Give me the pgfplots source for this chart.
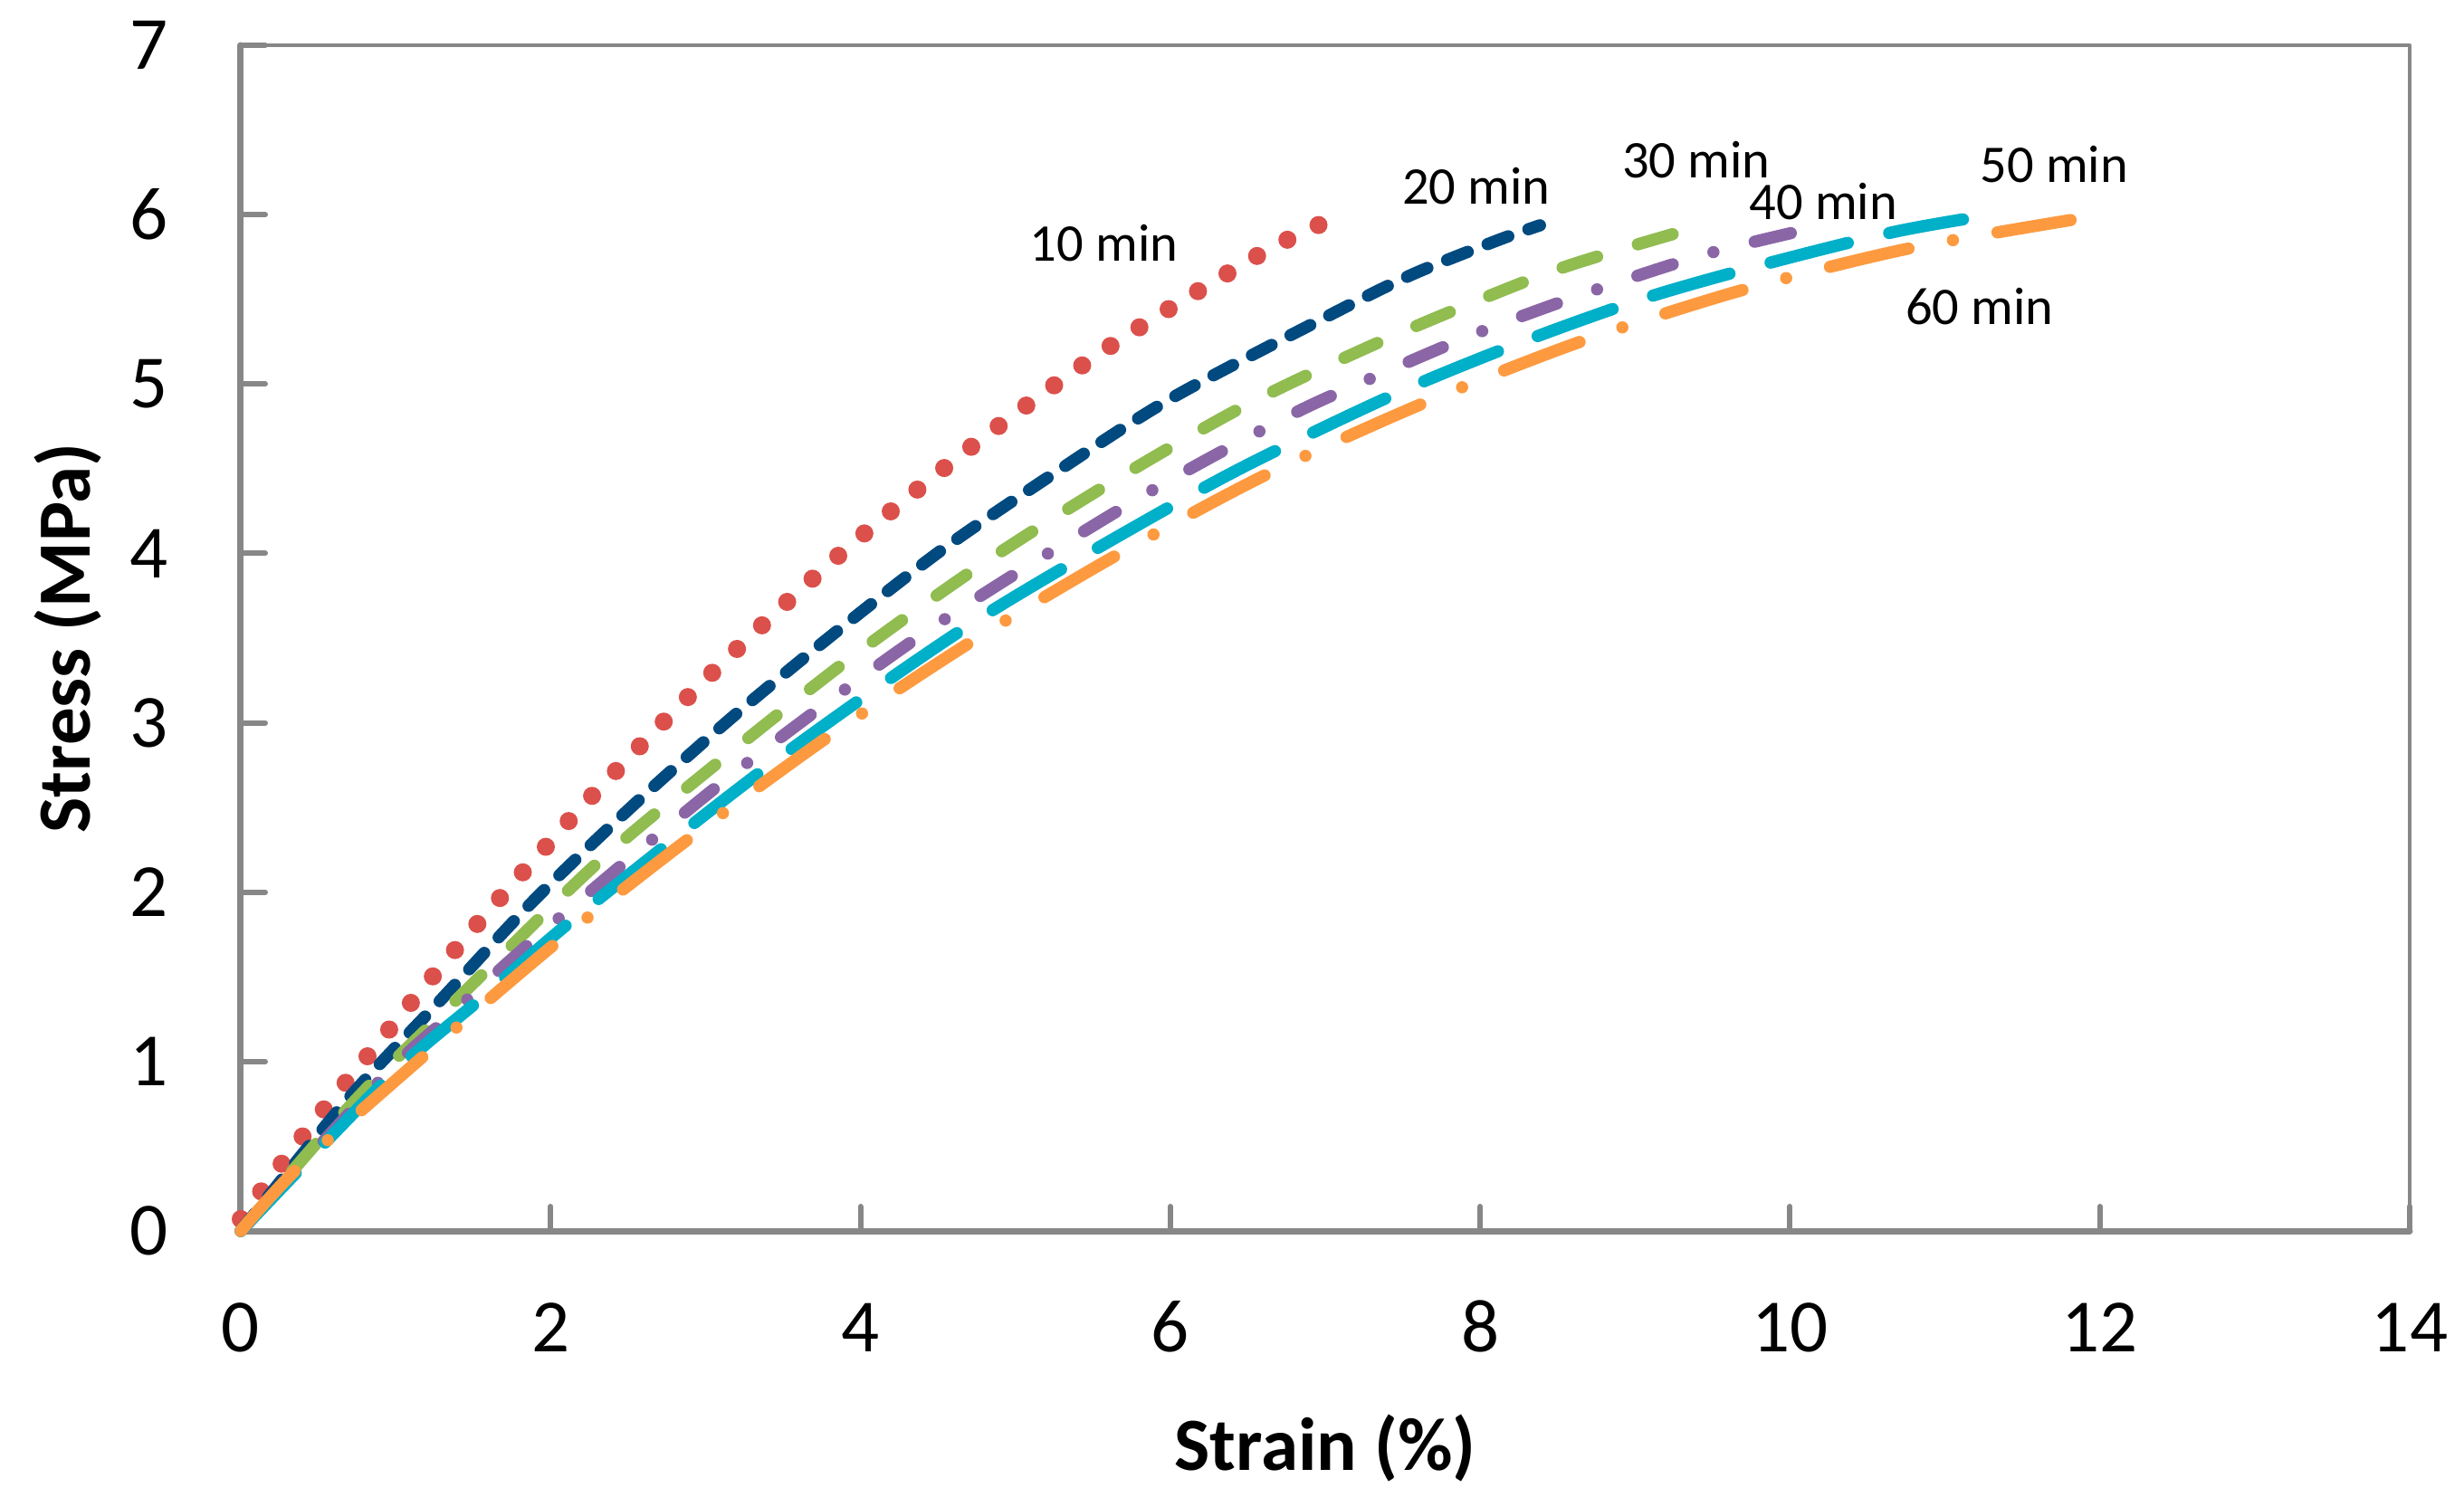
\documentclass[border=0pt]{standalone}
\usepackage{fontspec}
\setmainfont{Carlito}
\usepackage{pgfplots}
\pgfplotsset{compat=1.18}

\definecolor{axgray}{HTML}{878787}
\definecolor{c10}{HTML}{DB504B}
\definecolor{c20}{HTML}{004A80}
\definecolor{c30}{HTML}{90BC50}
\definecolor{c40}{HTML}{8A66A6}
\definecolor{c50}{HTML}{00AFC8}
\definecolor{c60}{HTML}{FD9A40}

\newcommand{\tickfont}{\fontsize{16.6}{20}\selectfont}
\newcommand{\labfont}{\fontsize{11.7}{14}\selectfont}

\begin{document}
\begin{tikzpicture}
  % page = whole reference frame, axis box starts at (0,0)
  \path[use as bounding box] (-53.2pt,-60.8pt) rectangle (491.2pt,272pt);
  \begin{axis}[
    at={(0pt,0pt)}, anchor=south west,
    scale only axis,
    width=479.2pt, height=262pt,
    xmin=0, xmax=14, ymin=0, ymax=7,
    xtick={0,2,...,14}, ytick={0,1,...,7},
    axis line style={axgray, line width=0.8pt},
    tick pos=left, tick align=inside,
    major tick length=5.4pt,
    every tick/.style={axgray, line width=1.2pt},
    /pgf/number format/assume math mode=true,
    xticklabel style={font=\tickfont, anchor=base, inner sep=0pt, yshift=-26.7pt},
    yticklabel style={font=\tickfont, anchor=east, inner sep=0pt, xshift=-15.9pt},
    xlabel={Strain (\%)},
    ylabel={Stress (MPa)},
    xlabel style={font=\tickfont\bfseries, at={(axis description cs:0.5,0)},
      anchor=base, yshift=-52.8pt},
    ylabel style={font=\tickfont\bfseries, at={(axis description cs:-0.0693,0.5)},
      anchor=base, rotate=0},
    clip=false,
    line cap=round, line join=round,
  ]
    % thick left and bottom axes
    \draw[axgray, line width=1.4pt] (rel axis cs:0,1) -- (rel axis cs:0,0) -- (rel axis cs:1,0);

    % 10 min
    \addplot[c10, line width=4pt, dash pattern=on 0pt off 7.6pt, smooth] coordinates {
      (0,0.07) (0.267,0.401) (0.540,0.722) (0.823,1.037) (1.101,1.350)
      (1.384,1.660) (1.676,1.969) (1.973,2.272) (2.269,2.570) (3.044,3.296)
      (3.859,3.988) (4.716,4.630) (5.613,5.224) (6.558,5.755) (6.96,5.94)
    };
    % 20 min
    \addplot[c20, line width=2.7pt, dash pattern=on 4.9pt off 4.7pt, smooth] coordinates {
      (0,0) (0.688,0.775) (1.29,1.363) (1.890,1.950) (2.521,2.503)
      (3.175,3.035) (3.854,3.545) (4.542,4.032) (5.269,4.484) (6.011,4.918)
      (7.044,5.414) (7.567,5.649) (8.111,5.848) (8.386,5.937)
    };
    % 30 min
    \addplot[c30, line width=2.7pt, dash pattern=on 8pt off 9.4pt, smooth] coordinates {
      (0,0) (0.530,0.561) (0.882,0.908) (1.232,1.220) (1.600,1.551)
      (2.327,2.193) (3.127,2.800) (3.926,3.376) (4.760,3.921) (5.623,4.422)
      (6.505,4.883) (7.432,5.281) (8.377,5.636) (8.862,5.782) (9.357,5.915)
    };
    % 40 min
    \addplot[c40, line width=2.7pt, dash pattern=on 8.2pt off 9.4pt on 0pt off 9.4pt, smooth] coordinates {
      (0,0) (0.930,0.918) (1.31,1.238) (1.914,1.737) (3.141,2.672)
      (4.435,3.545) (5.802,4.329) (6.737,4.798) (7.230,5.007) (7.965,5.295)
      (8.717,5.547) (9.483,5.773) (10.267,5.946)
    };
    % 50 min
    \addplot[c50, line width=2.7pt, dash pattern=on 17.6pt off 9.4pt, smooth] coordinates {
      (0,0) (0.959,0.909) (1.563,1.381) (2.177,1.862) (3.441,2.769)
      (4.760,3.611) (6.146,4.351) (6.864,4.688) (7.592,4.998) (8.339,5.272)
      (9.095,5.516) (9.871,5.716) (10.647,5.893) (11.116,5.972)
    };
    % 60 min
    \addplot[c60, line width=2.7pt, dash pattern=on 17.8pt off 10pt on 0pt off 10pt, smooth] coordinates {
      (0,0) (0.388,0.390) (1.202,1.050) (2.036,1.701) (2.894,2.317)
      (3.781,2.911) (4.692,3.465) (5.623,3.974) (6.592,4.453) (7.601,4.874)
      (8.620,5.241) (9.662,5.547) (10.719,5.791) (11.811,5.968)
    };

    \node[font=\labfont, anchor=base, inner sep=0pt] at (axis cs:5.571,5.724) {10 min};
    \node[font=\labfont, anchor=base, inner sep=0pt] at (axis cs:7.975,6.061) {20 min};
    \node[font=\labfont, anchor=base, inner sep=0pt] at (axis cs:9.395,6.216) {30 min};
    \node[font=\labfont, anchor=base, inner sep=0pt] at (axis cs:10.215,5.972) {40 min};
    \node[font=\labfont, anchor=base, inner sep=0pt] at (axis cs:11.706,6.189) {50 min};
    \node[font=\labfont, anchor=base, inner sep=0pt] at (axis cs:11.223,5.352) {60 min};
  \end{axis}
\end{tikzpicture}
\end{document}
